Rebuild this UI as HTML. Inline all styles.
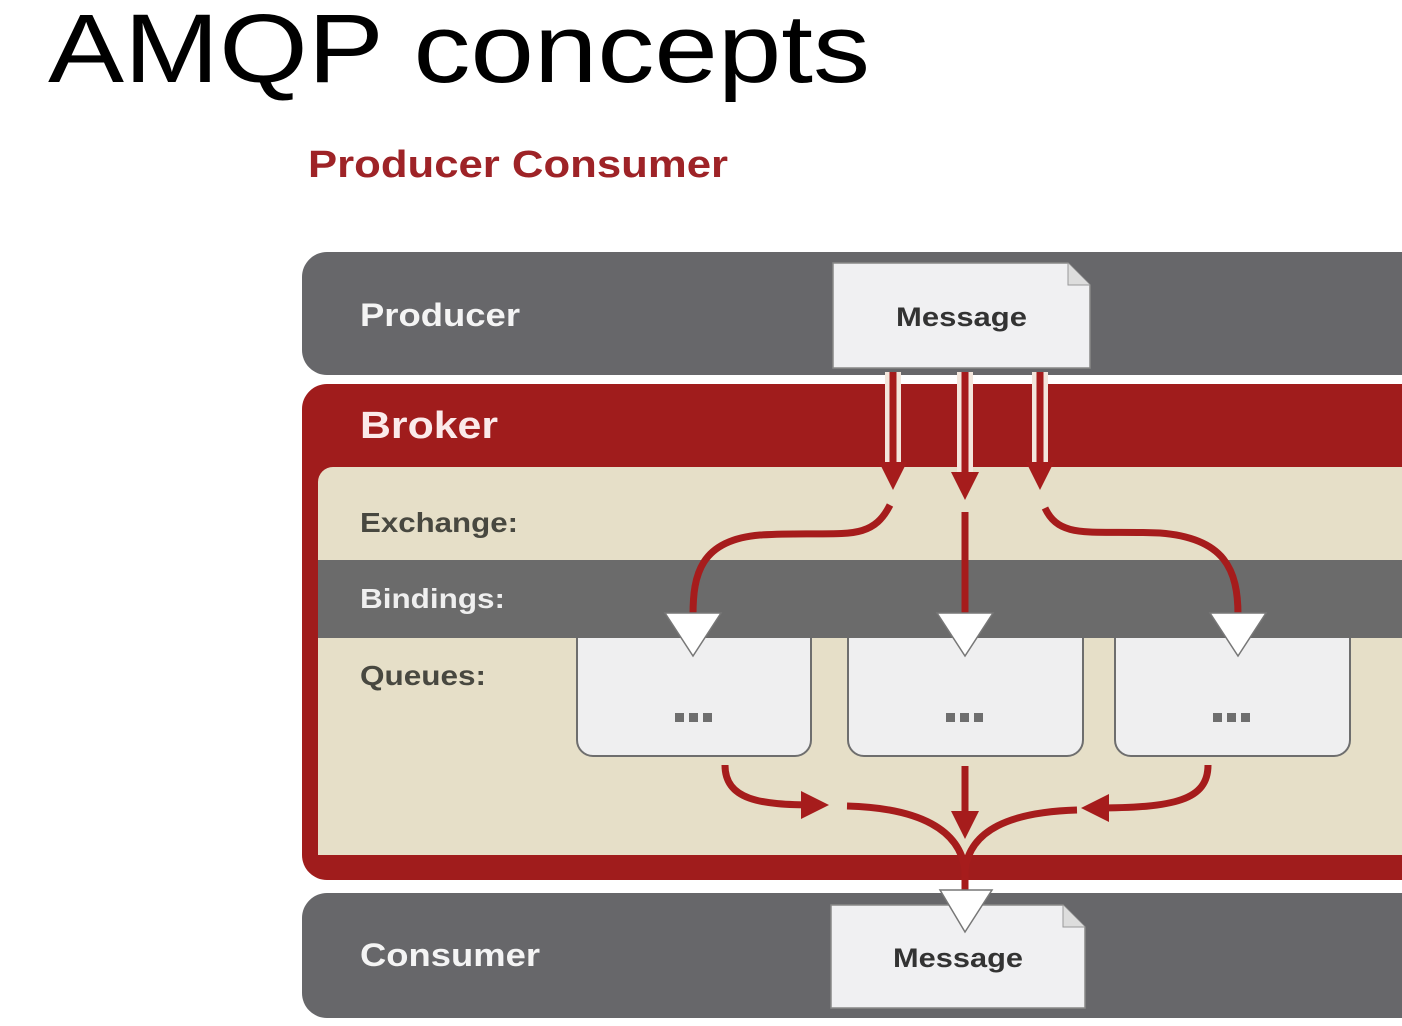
<!DOCTYPE html>
<html><head><meta charset="utf-8"><style>
html,body{margin:0;padding:0;background:#fff;}
svg{display:block;}
text{font-family:"Liberation Sans",sans-serif;}
</style></head><body>
<svg width="1402" height="1026" viewBox="0 0 1402 1026" xmlns="http://www.w3.org/2000/svg">
<defs>
<marker id="ah" viewBox="0 0 10 10" refX="5" refY="5" markerWidth="4" markerHeight="4" orient="auto-start-reverse" markerUnits="strokeWidth">
<path d="M0,0 L10,5 L0,10 z" fill="#a61c1c"/>
</marker>
</defs>
<text x="48" y="82" font-size="97" fill="#000" textLength="822" lengthAdjust="spacingAndGlyphs">AMQP concepts</text>
<text x="308" y="177" font-size="38" font-weight="bold" fill="#9e2327" textLength="420" lengthAdjust="spacingAndGlyphs">Producer Consumer</text>

<!-- Producer bar -->
<path d="M327,252 H1402 V375 H327 A25,25 0 0 1 302,350 V277 A25,25 0 0 1 327,252 Z" fill="#67676a"/>
<text x="360" y="326" font-size="32" font-weight="bold" fill="#f4f4f4" textLength="160" lengthAdjust="spacingAndGlyphs">Producer</text>
<path d="M833,263 H1068 L1090,285 V368 H833 Z" fill="#f0f0f2" stroke="#888" stroke-width="1.5"/>
<path d="M1068,263 V285 H1090" fill="#ddd" stroke="#999" stroke-width="1"/>
<text x="896" y="326" font-size="27" font-weight="bold" fill="#333" textLength="131" lengthAdjust="spacingAndGlyphs">Message</text>

<!-- Broker -->
<path d="M327,384 H1402 V880 H327 A25,25 0 0 1 302,855 V409 A25,25 0 0 1 327,384 Z" fill="#a01c1c"/>
<text x="360" y="438" font-size="38" font-weight="bold" fill="#fbeaea" textLength="138" lengthAdjust="spacingAndGlyphs">Broker</text>
<path d="M333,467 H1402 V855 H318 V482 A15,15 0 0 1 333,467 Z" fill="#e6dfc8"/>
<rect x="318" y="560" width="1084" height="78" fill="#6b6b6b"/>
<text x="360" y="532" font-size="28" font-weight="bold" fill="#484840" textLength="158" lengthAdjust="spacingAndGlyphs">Exchange:</text>
<text x="360" y="608" font-size="28" font-weight="bold" fill="#efefef" textLength="145" lengthAdjust="spacingAndGlyphs">Bindings:</text>
<text x="360" y="685" font-size="28" font-weight="bold" fill="#484840" textLength="126" lengthAdjust="spacingAndGlyphs">Queues:</text>

<!-- queues -->
<g fill="#efeff0" stroke="#6e6e6e" stroke-width="2">
<path d="M577,638 V740 A16,16 0 0 0 593,756 H795 A16,16 0 0 0 811,740 V638"/>
<path d="M848,638 V740 A16,16 0 0 0 864,756 H1067 A16,16 0 0 0 1083,740 V638"/>
<path d="M1115,638 V740 A16,16 0 0 0 1131,756 H1334 A16,16 0 0 0 1350,740 V638"/>
</g>
<g fill="#6e6e6e">
<rect x="675" y="713" width="9" height="9"/><rect x="689" y="713" width="9" height="9"/><rect x="703" y="713" width="9" height="9"/>
<rect x="946" y="713" width="9" height="9"/><rect x="960" y="713" width="9" height="9"/><rect x="974" y="713" width="9" height="9"/>
<rect x="1213" y="713" width="9" height="9"/><rect x="1227" y="713" width="9" height="9"/><rect x="1241" y="713" width="9" height="9"/>
</g>

<!-- top arrows -->
<g fill="none" stroke-linecap="butt">
<g stroke="#f3e6dc" stroke-width="16">
<path d="M893,372 V470"/><path d="M965,372 V480"/><path d="M1040,372 V470"/>
</g>
<g stroke="#a61c1c" stroke-width="7">
<path d="M893,372 V476" marker-end="url(#ah)"/>
<path d="M965,372 V486" marker-end="url(#ah)"/>
<path d="M1040,372 V476" marker-end="url(#ah)"/>
<path d="M890,505 C870,545 840,530 760,535 C700,540 693,575 693,615"/>
<path d="M965,512 V615"/>
<path d="M1045,508 C1060,540 1090,530 1160,533 C1225,538 1238,570 1238,615"/>
<!-- bottom -->
<path d="M725,765 C725,800 760,805 815,805" marker-end="url(#ah)"/>
<path d="M1208,765 C1208,800 1175,808 1095,808" marker-end="url(#ah)"/>
<path d="M965,766 V825" marker-end="url(#ah)"/>
<path d="M847,806 C920,808 960,830 965,870"/>
<path d="M1077,810 C1010,812 970,830 965,870"/>
<path d="M965,860 V895"/>
</g>
</g>
<!-- triangles -->
<g fill="#fff" stroke="#777" stroke-width="1.5">
<path d="M665,613 H721 L693,656 Z"/>
<path d="M937,613 H993 L965,656 Z"/>
<path d="M1210,613 H1266 L1238,656 Z"/>
</g>

<!-- Consumer -->
<path d="M327,893 H1402 V1018 H327 A25,25 0 0 1 302,993 V918 A25,25 0 0 1 327,893 Z" fill="#67676a"/>
<text x="360" y="966" font-size="32" font-weight="bold" fill="#f4f4f4" textLength="180" lengthAdjust="spacingAndGlyphs">Consumer</text>
<path d="M831,905 H1063 L1085,927 V1008 H831 Z" fill="#f0f0f2" stroke="#888" stroke-width="1.5"/>
<path d="M1063,905 V927 H1085" fill="#ddd" stroke="#999" stroke-width="1"/>
<text x="893" y="967" font-size="27" font-weight="bold" fill="#333" textLength="130" lengthAdjust="spacingAndGlyphs">Message</text>
<path d="M940,890 H992 L965,932 Z" fill="#fff" stroke="#777" stroke-width="1.5"/>
</svg>
</body></html>
